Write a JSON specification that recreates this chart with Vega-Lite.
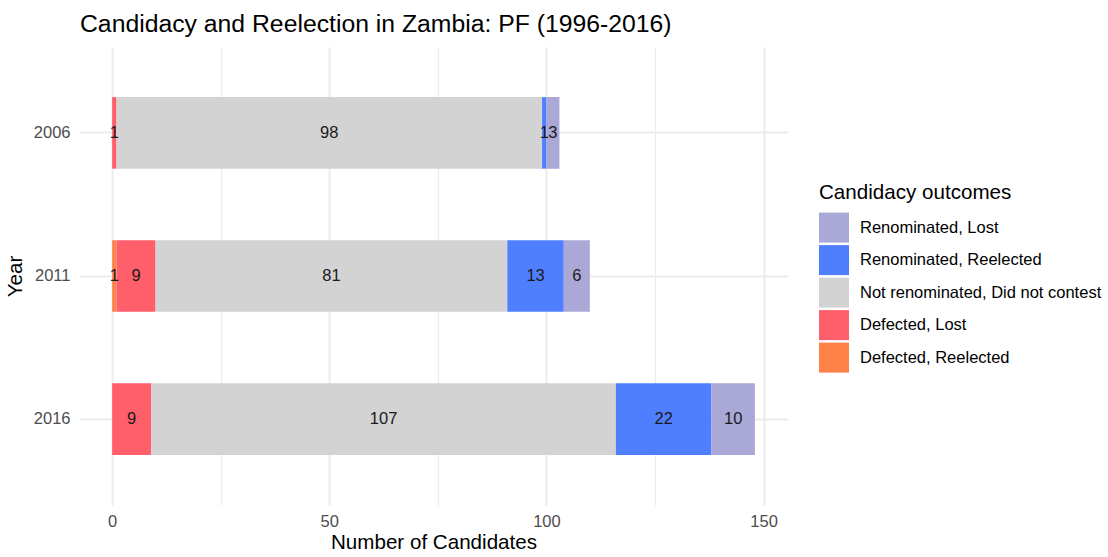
{
  "$schema": "https://vega.github.io/schema/vega-lite/v6.json",
  "width": 707,
  "height": 458,
  "autosize": "none",
  "padding": {"left": 80, "top": 47, "right": 321, "bottom": 52},
  "background": "white",
  "title": {
    "text": "Candidacy and Reelection in Zambia: PF (1996-2016)",
    "anchor": "start",
    "frame": "group",
    "fontSize": 24.75,
    "fontWeight": "normal",
    "font": "Liberation Sans",
    "color": "black",
    "baseline": "alphabetic",
    "offset": 16,
    "dy": 26
  },
  "config": {
    "view": {"stroke": null},
    "font": "Liberation Sans"
  },
  "data": {
    "values": [
      {"Year": "2006", "Outcome": "Defected, Lost", "rank": 2, "n": 1},
      {"Year": "2006", "Outcome": "Not renominated, Did not contest", "rank": 3, "n": 98},
      {"Year": "2006", "Outcome": "Renominated, Reelected", "rank": 4, "n": 1},
      {"Year": "2006", "Outcome": "Renominated, Lost", "rank": 5, "n": 3},
      {"Year": "2011", "Outcome": "Defected, Reelected", "rank": 1, "n": 1},
      {"Year": "2011", "Outcome": "Defected, Lost", "rank": 2, "n": 9},
      {"Year": "2011", "Outcome": "Not renominated, Did not contest", "rank": 3, "n": 81},
      {"Year": "2011", "Outcome": "Renominated, Reelected", "rank": 4, "n": 13},
      {"Year": "2011", "Outcome": "Renominated, Lost", "rank": 5, "n": 6},
      {"Year": "2016", "Outcome": "Defected, Lost", "rank": 2, "n": 9},
      {"Year": "2016", "Outcome": "Not renominated, Did not contest", "rank": 3, "n": 107},
      {"Year": "2016", "Outcome": "Renominated, Reelected", "rank": 4, "n": 22},
      {"Year": "2016", "Outcome": "Renominated, Lost", "rank": 5, "n": 10}
    ]
  },
  "transform": [
    {"stack": "n", "groupby": ["Year"], "sort": [{"field": "rank", "order": "ascending"}], "as": ["x0", "x1"]},
    {"calculate": "(datum.x0 + datum.x1) / 2", "as": "mid"}
  ],
  "encoding": {
    "y": {
      "field": "Year",
      "type": "nominal",
      "sort": ["2006", "2011", "2016"],
      "scale": {"paddingInner": 0.5, "paddingOuter": 0.35},
      "axis": {
        "title": "Year",
        "titleFontSize": 20.6,
        "titleFontWeight": "normal",
        "titleColor": "black",
        "titlePadding": 8,
        "labelFontSize": 16.5,
        "labelColor": "#4D4D4D",
        "labelPadding": 10,
        "ticks": false,
        "tickSize": 0,
        "domain": false,
        "grid": true,
        "bandPosition": 0.5,
        "gridColor": "#EBEBEB",
        "gridWidth": 2
      }
    }
  },
  "layer": [
    {
      "mark": {"type": "bar", "opacity": 1},
      "encoding": {
        "x": {
          "field": "x0",
          "type": "quantitative",
          "scale": {"domain": [-7.4, 155.4], "nice": false, "zero": false},
          "axis": {
            "title": "Number of Candidates",
            "titleFontSize": 20.6,
            "titleFontWeight": "normal",
            "titleColor": "black",
            "titlePadding": 3,
            "values": [0, 25, 50, 75, 100, 125, 150],
            "labelExpr": "datum.value % 50 === 0 ? datum.label : ''",
            "labelFontSize": 16.5,
            "labelColor": "#4D4D4D",
            "labelPadding": 8,
            "ticks": false,
            "tickSize": 0,
            "domain": false,
            "grid": true,
            "gridColor": "#EBEBEB",
            "gridWidth": {"condition": {"test": "datum.value % 50 === 0", "value": 2}, "value": 1.2}
          }
        },
        "x2": {"field": "x1"},
        "color": {
          "field": "Outcome",
          "type": "nominal",
          "scale": {
            "domain": ["Renominated, Lost", "Renominated, Reelected", "Not renominated, Did not contest", "Defected, Lost", "Defected, Reelected"],
            "range": ["#AAA8D6", "#4F7FFF", "#D3D3D3", "#FF5E6B", "#FF8248"]
          },
          "legend": {
            "title": "Candidacy outcomes",
            "orient": "none",
            "legendX": 739,
            "legendY": 136,
            "padding": 0,
            "titleFontSize": 20.6,
            "titleFontWeight": "normal",
            "titleColor": "black",
            "titlePadding": 9,
            "titleLimit": 0,
            "labelFontSize": 16.5,
            "labelColor": "black",
            "labelOffset": 11,
            "labelLimit": 0,
            "symbolType": "square",
            "symbolSize": 900,
            "symbolStrokeWidth": 0,
            "symbolOpacity": 1,
            "rowPadding": 2.5
          }
        }
      }
    },
    {
      "mark": {"type": "text", "fontSize": 16.5, "color": "#1A1A1A", "baseline": "middle", "align": "center"},
      "encoding": {
        "x": {"field": "mid", "type": "quantitative"},
        "text": {"field": "n", "type": "quantitative"}
      }
    }
  ]
}
